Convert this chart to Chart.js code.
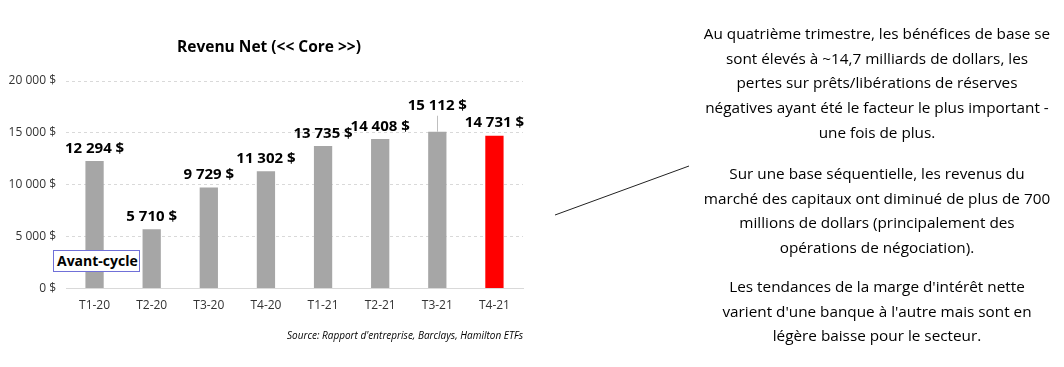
<!DOCTYPE html>
<html>
<head>
<meta charset="utf-8">
<script src="https://cdn.jsdelivr.net/npm/chart.js@4"></script>
<style>
  body { margin: 0; background: #fff; width: 1064px; height: 367px; overflow: hidden; position: relative; font-family: "Open Sans", sans-serif; }
  #chartBox { position: absolute; left: 0; top: 0; width: 540px; height: 367px; }
  #title { position: absolute; left: 169px; width: 200px; top: 35px; text-align: center; font-weight: bold; font-size: 15.5px; line-height: 22px; white-space: nowrap; }
  .note { position: absolute; left: 677px; width: 400px; text-align: center; font-size: 15.3px; line-height: 24.7px; color: #000; white-space: pre; }
  #avant { position: absolute; left: 53px; top: 250px; width: 82px; height: 20px; border: 1px solid #7070d8; background: #fff; font-weight: bold; font-size: 14px; line-height: 20px; padding-left: 3px; white-space: nowrap; }
  svg { position: absolute; left: 0; top: 0; }
</style>
</head>
<body>
<div id="chartBox"><canvas id="revChart"></canvas></div>
<div id="title">Revenu Net (&lt;&lt; Core &gt;&gt;)</div>
<div id="avant">Avant-cycle</div>
<svg width="1064" height="367"><line x1="555" y1="215" x2="689" y2="166" stroke="#222" stroke-width="1"/></svg>
<div class="note" style="top:21px">Au quatrième trimestre, les bénéfices de base se
sont élevés à ~14,7 milliards de dollars, les
pertes sur prêts/libérations de réserves
négatives ayant été le facteur le plus important -
une fois de plus.</div>
<div class="note" style="top:161px">Sur une base séquentielle, les revenus du
marché des capitaux ont diminué de plus de 700
millions de dollars (principalement des
opérations de négociation).</div>
<div class="note" style="top:274px">Les tendances de la marge d'intérêt nette
varient d'une banque à l'autre mais sont en
légère baisse pour le secteur.</div>
<script>
const quarters = ["T1-20", "T2-20", "T3-20", "T4-20", "T1-21", "T2-21", "T3-21", "T4-21"];
const netRevenue = [12294, 5710, 9729, 11302, 13735, 14408, 15112, 14731];
const barColors = ["#a6a6a6", "#a6a6a6", "#a6a6a6", "#a6a6a6", "#a6a6a6", "#a6a6a6", "#a6a6a6", "#ff0000"];
const yTicks = [0, 5000, 10000, 15000, 20000];

const fmt = (v) => v.toLocaleString("fr-FR").replace(/\s/g, " ") + " $";

// value labels over the bars + small whisker on T3-21
const barLabels = {
  id: "barLabels",
  afterDatasetsDraw(chart) {
    const ctx = chart.ctx;
    const meta = chart.getDatasetMeta(0);
    ctx.save();
    const bar = meta.data[6];
    ctx.strokeStyle = "#bfbfbf";
    ctx.lineWidth = 1;
    ctx.beginPath();
    ctx.moveTo(Math.round(bar.x) + 0.5, bar.y);
    ctx.lineTo(Math.round(bar.x) + 0.5, bar.y - 16);
    ctx.stroke();
    ctx.fillStyle = "#000";
    ctx.font = "bold 15px 'Open Sans'";
    ctx.textAlign = "center";
    ctx.textBaseline = "bottom";
    meta.data.forEach((el, i) => {
      const dy = i === 6 ? 19 : 5;
      ctx.fillText(fmt(netRevenue[i]), el.x, el.y - dy);
    });
    ctx.restore();
  }
};

new Chart(document.getElementById("revChart"), {
  type: "bar",
  data: {
    labels: quarters,
    datasets: [{
      data: netRevenue,
      backgroundColor: barColors,
      barPercentage: 0.32,
      categoryPercentage: 1
    }]
  },
  options: {
    responsive: true,
    maintainAspectRatio: false,
    animation: false,
    layout: { padding: { top: 81, right: 17, bottom: 25, left: 0 } },
    plugins: {
      legend: { display: false },
      tooltip: { enabled: false },
      subtitle: {
        display: true,
        position: "bottom",
        align: "end",
        text: "Source: Rapport d'entreprise, Barclays, Hamilton ETFs",
        color: "#000",
        font: { family: "Open Sans", size: 10, style: "italic" },
        padding: { top: 15, bottom: 0 }
      }
    },
    scales: {
      x: {
        grid: { display: false },
        border: { color: "#d9d9d9" },
        ticks: { color: "#333", font: { family: "Open Sans", size: 12 }, padding: 2 }
      },
      y: {
        min: 0,
        max: 20000,
        afterFit(scale) { scale.width = 66; },
        afterBuildTicks(scale) { scale.ticks = yTicks.map(v => ({ value: v })); },
        grid: { color: "#d9d9d9", drawTicks: false },
        border: { display: false, dash: [3, 3] },
        ticks: {
          color: "#333",
          padding: 10,
          font: { family: "Open Sans", size: 12 },
          callback: (v) => fmt(v)
        }
      }
    }
  },
  plugins: [barLabels]
});
</script>
</body>
</html>
